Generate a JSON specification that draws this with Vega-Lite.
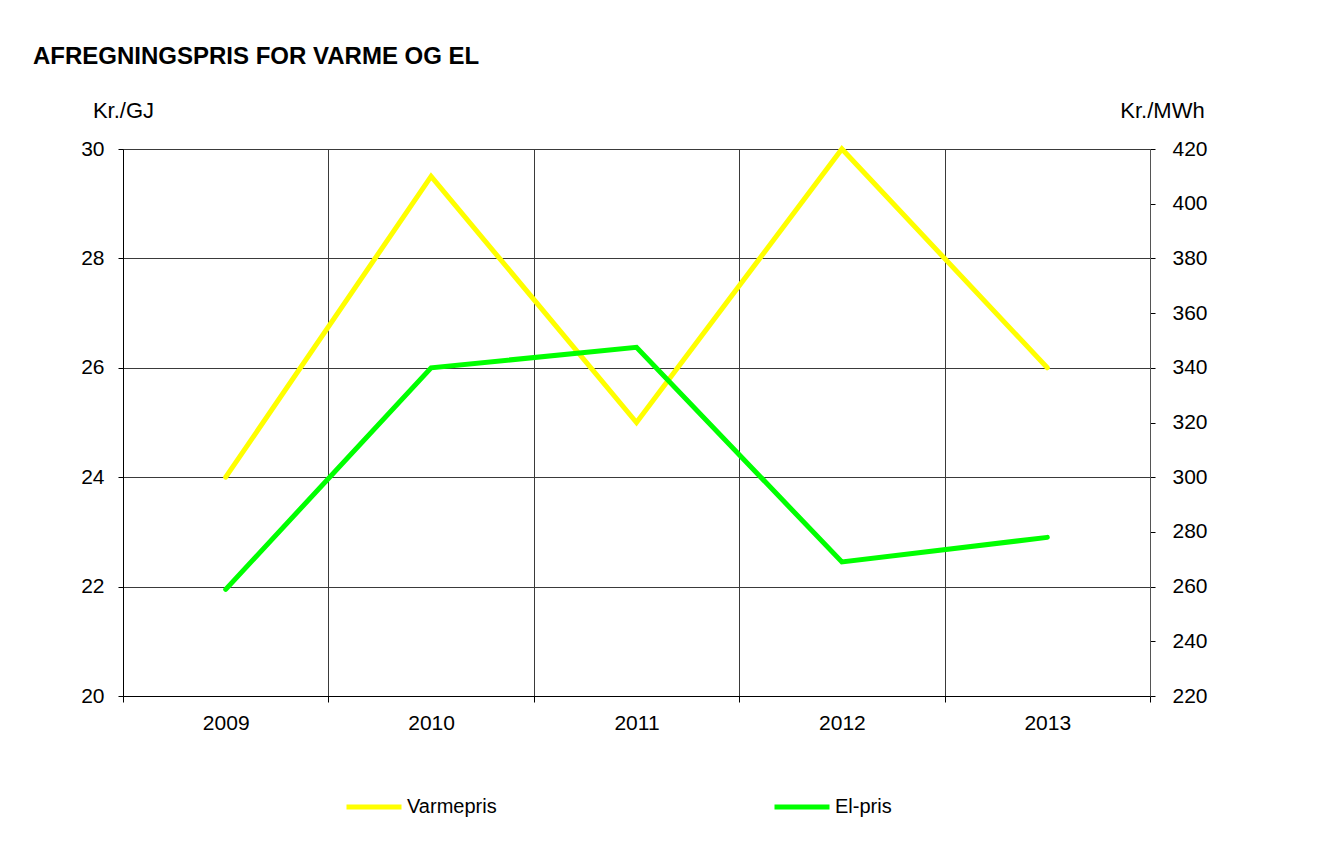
{
  "$schema": "https://vega.github.io/schema/vega-lite/v6.json",
  "width": 1027,
  "height": 547,
  "autosize": {"type": "none"},
  "padding": {"left": 123, "top": 149, "right": 174, "bottom": 148},
  "background": "white",
  "config": {
    "font": "Liberation Sans",
    "view": {"stroke": null},
    "axis": {
      "labelFont": "Liberation Sans",
      "labelFontSize": 21,
      "labelColor": "black",
      "titleFont": "Liberation Sans",
      "titleFontSize": 22,
      "titleFontWeight": "normal",
      "titleColor": "black",
      "domainColor": "black",
      "domainWidth": 1,
      "tickColor": "black",
      "tickWidth": 1,
      "gridColor": "#3a3a3a",
      "gridWidth": 1,
      "gridOpacity": 1
    },
    "legend": {
      "labelFont": "Liberation Sans",
      "labelFontSize": 20,
      "labelColor": "black"
    }
  },
  "title": {
    "text": "AFREGNINGSPRIS FOR VARME OG EL",
    "anchor": "start",
    "frame": "group",
    "font": "Liberation Sans",
    "fontSize": 24,
    "fontWeight": "bold",
    "color": "black",
    "offset": 0,
    "dx": -90,
    "dy": -30
  },
  "data": {
    "values": [
      {"year": "2009", "varme": 24.0, "el": 259},
      {"year": "2010", "varme": 29.5, "el": 340},
      {"year": "2011", "varme": 25.0, "el": 347.5},
      {"year": "2012", "varme": 30.0, "el": 269},
      {"year": "2013", "varme": 26.0, "el": 278}
    ]
  },
  "encoding": {
    "x": {
      "field": "year",
      "type": "ordinal",
      "bandPosition": 0.5,
      "scale": {"type": "band", "paddingInner": 0, "paddingOuter": 0},
      "axis": {
        "title": null,
        "labelAngle": 0,
        "tickBand": "extent",
        "grid": true,
        "tickSize": 6,
        "labelPadding": 10,
        "domainColor": "black"
      }
    }
  },
  "layer": [
    {
      "mark": {"type": "line", "strokeWidth": 5, "strokeCap": "round", "strokeJoin": "miter"},
      "encoding": {
        "y": {
          "field": "varme",
          "type": "quantitative",
          "scale": {"domain": [20, 30], "nice": false, "zero": false},
          "axis": {
            "orient": "left",
            "values": [20, 22, 24, 26, 28, 30],
            "grid": true,
            "tickSize": 5,
            "labelPadding": 14,
            "title": "Kr./GJ",
            "titleAngle": 0,
            "titleX": 0,
            "titleY": -39,
            "titleAlign": "center",
            "titleBaseline": "middle"
          }
        },
        "color": {
          "datum": "Varmepris",
          "type": "nominal",
          "scale": {"domain": ["Varmepris", "El-pris"], "range": ["#FFFF00", "#00FF00"]},
          "legend": {
            "title": null,
            "orient": "none",
            "direction": "horizontal",
            "legendX": 221,
            "legendY": 628,
            "padding": 0,
            "symbolType": "stroke",
            "symbolSize": 3025,
            "symbolStrokeWidth": 5,
            "labelOffset": 3,
            "columnPadding": 267
          }
        }
      }
    },
    {
      "mark": {"type": "line", "strokeWidth": 5, "strokeCap": "round", "strokeJoin": "miter"},
      "encoding": {
        "y": {
          "field": "el",
          "type": "quantitative",
          "scale": {"domain": [220, 420], "nice": false, "zero": false},
          "axis": {
            "orient": "right",
            "values": [220, 240, 260, 280, 300, 320, 340, 360, 380, 400, 420],
            "grid": false,
            "tickSize": 5,
            "labelPadding": 17,
            "domainColor": "#555555",
            "title": "Kr./MWh",
            "titleAngle": 0,
            "titleX": 12,
            "titleY": -39,
            "titleAlign": "center",
            "titleBaseline": "middle"
          }
        },
        "color": {"datum": "El-pris", "type": "nominal"}
      }
    }
  ],
  "resolve": {"scale": {"y": "independent"}}
}
